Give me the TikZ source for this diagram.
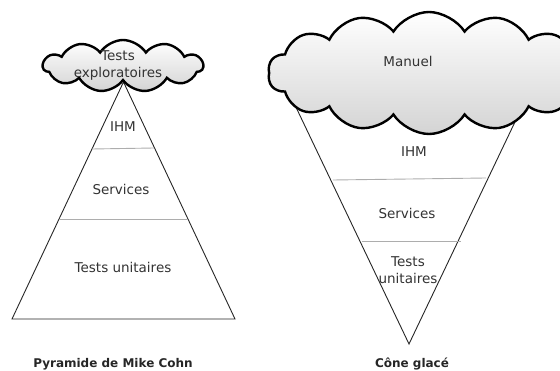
\documentclass[tikz,border=0pt]{standalone}
\usepackage{fontspec}
\setmainfont{DejaVu Sans}
\usetikzlibrary{shapes.symbols,positioning}

\begin{document}
\begin{tikzpicture}[x=1pt,y=-1pt]

		    \definecolor{txtcolor}{rgb}{0.20,0.20,0.20}
		    \definecolor{sepcolor}{rgb}{0.68,0.68,0.68}
		    \tikzset{
		      edge/.style={draw=black!85,line width=0.9pt},
		      sepline/.style={draw=sepcolor,line width=0.9pt},
		      nuage/.style={cloud,draw=black,line width=2.4pt,top color=white,bottom color=black!17,cloud puff arc=115},
		      lbl/.style={text=txtcolor,font=\fontsize{13.5}{17}\selectfont,align=center,inner sep=0pt},
		      titre/.style={text=black!85,font=\fontsize{12}{14}\selectfont\bfseries,inner sep=0pt}
		    }
		    \useasboundingbox (0,0) rectangle (560,371);

		    % pyramide
		    \coordinate (pa) at (123.5,82);
		    \coordinate (pl) at (12,319);
		    \coordinate (pr) at (235,319);
		    \draw[edge] (pl) -- (pa) -- (pr) -- cycle;
		    \draw[sepline] (92,149) -- (154,148);
		    \draw[sepline] (59,219) -- (188,219);

		    % cone
		    \coordinate (ca) at (409,344);
		    \coordinate (cl) at (283,80);
		    \coordinate (cr) at (535,80);
		    \draw[edge] (cl) -- (ca) -- (cr);
		    \draw[sepline] (333,180) -- (486,178);
		    \draw[sepline] (362,241) -- (461,241);

		    % nuages
		    \node(nuage1) [nuage,cloud puffs=11,aspect=2.5,minimum width=160pt,minimum height=52pt] at (123,66) {};
		    \node(nuage2) [nuage,cloud puffs=14,aspect=2.64,minimum width=322pt,minimum height=122pt] at (429,73) {};

		    \node(explo) [lbl] at (118,65) {Tests\\exploratoires};
		    \node(manuel) [lbl] at (408,61) {Manuel};

		    \node(ihm1) [lbl] at (123,127) {IHM};
		    \node(serv1) [lbl] at (121,189) {Services};
		    \node(unit1) [lbl] at (123,267) {Tests unitaires};

		    \node(ihm2) [lbl] at (414,152) {IHM};
		    \node(serv2) [lbl] at (407,213) {Services};
		    \node(unit2) [lbl] at (408,270) {Tests\\unitaires};

		    \node(cohn) [titre] at (113,364) {Pyramide de Mike Cohn};
		    \node(glace) [titre] at (412,364) {Cône glacé};

\end{tikzpicture}
\end{document}
